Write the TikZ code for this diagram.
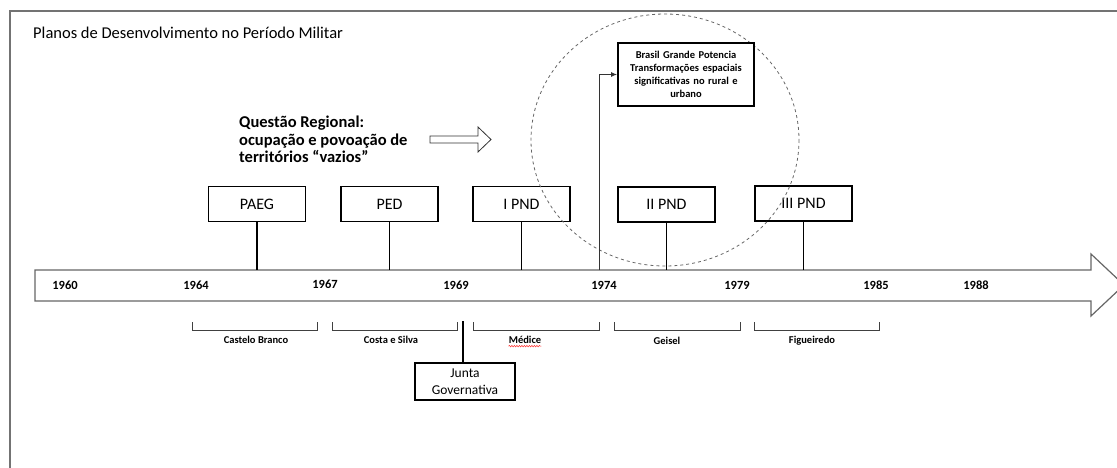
\documentclass[tikz,border=0pt]{standalone}
\usepackage{fontspec}
\setmainfont{Carlito}
\usetikzlibrary{positioning,arrows.meta,decorations.pathmorphing}

\tikzset{
  planbox/.style={draw, line width=1.9pt, minimum width=97pt, minimum height=35pt, inner sep=0pt, font=\fontsize{16}{19}\selectfont},
  stem/.style={line width=1.8pt},
  year/.style={inner sep=0pt, font=\bfseries\fontsize{12.5}{14}\selectfont},
  govname/.style={inner sep=0pt, font=\bfseries\fontsize{10.5}{12}\selectfont},
  bracket/.style={draw=black!75, line width=0.8pt},
}

\begin{document}
\begin{tikzpicture}[x=1pt, y=-1pt]
\useasboundingbox (0,0) rectangle (1117,468);

\draw[black!55, line width=2pt] (10,468) -- (10,11) -- (1117,11);
\node[anchor=base west, inner sep=0pt, font=\fontsize{16.5}{19}\selectfont] (title) at (33,39) {Planos de Desenvolvimento no Período Militar};

% linha do tempo
\draw[black!60, fill=white, line width=1.2pt] (35,270) -- (1091,270) -- (1091,254) -- (1124,285)
    -- (1091,316) -- (1091,301) -- (35,301) -- cycle;
\coordinate (axistop) at (0,270);

\node[year] (y1960) at (65,285) {1960};
\node[year] (y1964) at (196,285) {1964};
\node[year] (y1967) at (325,284) {1967};
\node[year] (y1969) at (456,285) {1969};
\node[year] (y1974) at (604,285) {1974};
\node[year] (y1979) at (737,285) {1979};
\node[year] (y1985) at (876,285) {1985};
\node[year] (y1988) at (976,285) {1988};

% planos
\node[planbox] (paeg) at (257,204) {PAEG};
\node[planbox] (ped) at (389.5,204) {PED};
\node[planbox] (pnd1) at (521.5,204) {I PND};
\node[planbox] (pnd2) at (666.5,204.5) {II PND};
\node[planbox] (pnd3) at (803.5,203.5) {III PND};

\draw[stem] (paeg) -- (paeg |- axistop);
\draw[stem] (ped) -- (ped |- axistop);
\draw[stem] (pnd1) -- (pnd1 |- axistop);
\draw[stem] (pnd2) -- (pnd2 |- axistop);
\draw[stem] (pnd3) -- (pnd3 |- axistop);

\node[anchor=north west, align=left, inner sep=0pt, font=\bfseries\fontsize{16.5}{17.5}\selectfont] (regional) at (239,116)
    {Questão Regional:\\ocupação e povoação de\\territórios “vazios”};
\draw[black!80, line width=0.8pt] (430,136) -- (478,136) -- (478,127) -- (491,139.5) -- (478,152)
    -- (478,143) -- (430,143) -- cycle;

\draw[black!60, dashed, line width=0.8pt] (665,140) ellipse [x radius=134, y radius=126];

\node[draw, line width=1.9pt, fill=white, minimum width=136pt, minimum height=63pt, text width=132pt, align=center,
    inner sep=0pt, font=\bfseries\fontsize{10.5}{13}\selectfont] (brasil) at (686,74.5)
    {Brasil Grande Potencia\\Transformações espaciais\\significativas no rural e\\urbano};
\coordinate (t1974) at (599,270);
\draw[black!80, line width=0.9pt, -{Latex[length=6pt, width=5pt]}] (t1974) |- (brasil.west);

% governos
\draw[bracket] (192,322) -- (192,330) -- (317,330) -- (317,322);
\draw[bracket] (332,322) -- (332,330) -- (457,330) -- (457,322);
\draw[bracket] (473,322) -- (473,330) -- (599,330) -- (599,322);
\draw[bracket] (614,322) -- (614,330) -- (740,330) -- (740,322);
\draw[bracket] (754,322) -- (754,330) -- (879,330) -- (879,322);

\node[govname] (castelo) at (256,340) {Castelo Branco};
\node[govname] (costa) at (391,340) {Costa e Silva};
\node[govname] (medice) at (525,340) {Médice};
\node[govname] (geisel) at (667,341) {Geisel};
\node[govname] (figueiredo) at (812,341) {Figueiredo};
\draw[red!80, line width=0.5pt, decorate, decoration={snake, amplitude=0.8pt, segment length=2.5pt}]
    ([yshift=-2.5pt]medice.base west) -- ([yshift=-2.5pt]medice.base east);

\node[draw, line width=1.9pt, minimum width=100pt, minimum height=37pt, align=center, inner sep=0pt,
    font=\fontsize{13.5}{16.5}\selectfont] (junta) at (465,381.5) {Junta\\Governativa};
\coordinate (t1969) at (463,321);
\draw[stem] (t1969) -- (t1969 |- junta.north);

\end{tikzpicture}
\end{document}
